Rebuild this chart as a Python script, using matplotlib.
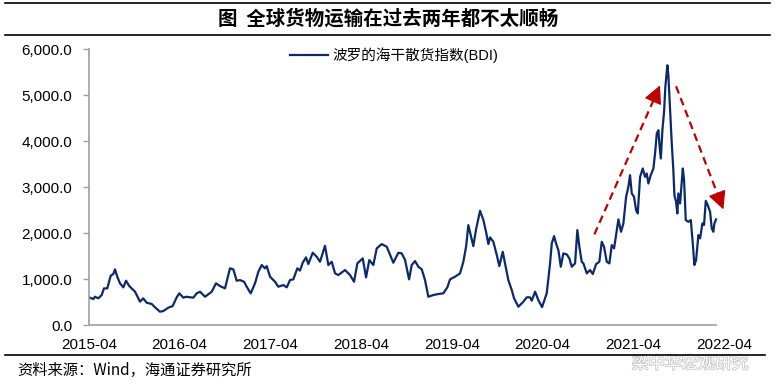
import matplotlib
matplotlib.use("Agg")
import matplotlib.pyplot as plt
import matplotlib.patheffects as pe
from matplotlib.lines import Line2D
from matplotlib.ticker import FuncFormatter, MultipleLocator

plt.rcParams['font.family'] = ['Liberation Sans', 'Noto Sans CJK SC', 'DejaVu Sans']

# BDI. x = months since 2015-04
months = [0.0, 0.57, 0.79, 1.23, 1.68, 1.98, 2.42, 2.87, 3.21, 3.44, 3.74, 4.10, 4.54, 4.90,
          5.33, 6.09, 6.75, 7.18, 7.63, 8.30, 8.73, 9.39, 9.83, 10.49, 11.07, 11.60, 11.95,
          12.48, 12.83, 13.80, 14.25, 14.69, 15.35, 16.23, 16.80, 17.33, 17.99, 18.65, 19.09,
          19.54, 19.98, 20.51, 20.86, 21.39, 21.96, 22.40, 22.85, 23.28, 23.51, 23.95, 24.61,
          25.04, 25.71, 26.16, 26.59, 27.03, 27.56, 27.91, 28.27, 28.71, 29.01, 29.60, 30.12,
          30.56, 31.22, 31.66, 32.11, 32.55, 32.98, 33.87, 34.53, 35.06, 35.50, 36.21, 36.65,
          37.08, 37.61, 38.06, 38.72, 39.39, 40.26, 40.92, 41.37, 41.81, 42.34, 42.69, 43.13,
          43.57, 44.02, 44.45, 44.89, 45.55, 46.21, 46.87, 47.40, 47.76, 48.42, 49.08, 49.52,
          49.88, 50.18, 50.50, 50.84, 51.20, 51.73, 52.17, 52.52, 52.83, 53.05, 53.49, 53.94,
          54.28, 54.73, 55.04, 55.47, 55.92, 56.23, 56.80, 57.46, 57.91, 58.34, 58.57, 59.01,
          59.44, 59.93, 60.55, 60.99, 61.22, 61.52, 61.78, 62.09, 62.41, 62.75, 63.20, 63.54,
          63.86, 64.30, 64.60, 64.87, 65.18, 65.40, 65.85, 66.28, 66.64, 67.08, 67.51, 67.83,
          68.13, 68.49, 68.84, 69.15, 69.46, 69.72, 70.03, 70.38, 70.69, 71.05, 71.35, 71.57,
          71.80, 72.10, 72.37, 72.59, 72.90, 73.25, 73.56, 73.78, 74.00, 74.31, 74.66, 74.88,
          75.11, 75.32, 75.45, 75.64, 75.85, 76.07, 76.24, 76.51, 76.64, 76.87, 77.09, 77.30,
          77.44, 77.66, 77.83, 77.96, 78.19, 78.55, 78.72, 78.94, 79.29, 79.61, 79.87, 80.08,
          80.31, 80.61, 80.84, 81.14, 81.36, 81.59, 81.85, 82.16, 82.38, 82.59, 82.73, 82.95]
bdi = [608, 571, 621, 586, 658, 803, 803, 1077, 1114, 1216, 1056, 912, 825, 969,
       853, 730, 513, 586, 491, 463, 391, 296, 310, 383, 419, 608, 695,
       600, 621, 600, 695, 730, 621, 730, 912, 853, 803, 1238, 1216,
       969, 983, 947, 839, 695, 912, 1164, 1310, 1238, 1287, 1056, 947,
       839, 875, 825, 983, 1000, 1238, 1190, 1360, 1477, 1331, 1577, 1490,
       1381, 1729, 1310, 1381, 1129, 1092, 1201, 1092, 947, 1346, 1455, 1042,
       1418, 1310, 1672, 1765, 1707, 1360, 1577, 1563, 1418, 999, 1310, 1396,
       1273, 1216, 983, 621, 658, 680, 695, 825, 999, 1056, 1129, 1381,
       1707, 2178, 1961, 1722, 2085, 2489, 2287, 2033, 1765, 1911, 1816, 1527,
       1288, 1599, 1346, 983, 767, 586, 404, 513, 608, 608, 535, 730,
       549, 395, 695, 1346, 1781, 1939, 1781, 1635, 1273, 1563, 1541, 1455,
       1273, 1346, 2070, 1707, 1381, 1346, 1129, 1201, 1114, 1331, 1381, 1816,
       1707, 1381, 1346, 1744, 1672, 1961, 2302, 2033, 2215, 2793, 3010, 3264,
       2866, 2793, 2504, 2432, 3227, 3409, 3227, 3300, 3083, 3264, 3409, 3735,
       4169, 4241, 3952, 3626, 4241, 4638, 5181, 5653, 5435, 4675, 3952, 3372,
       2829, 2684, 2432, 2866, 2649, 3409, 3155, 2287, 2250, 2287, 1781, 1310,
       1418, 1961, 1890, 2215, 2180, 2706, 2612, 2467, 2106, 2033, 2215, 2302]

tick_months = [0, 12, 24, 36, 48, 60, 72, 84]
tick_labels = ['2015-04', '2016-04', '2017-04', '2018-04', '2019-04', '2020-04', '2021-04', '2022-04']

# trend arrows: (start month, start value, end month, end value)
arrows = [(66.85, 1976, 75.54, 5216), (77.66, 5197, 83.92, 2519)]

W, H = 776, 389
fig = plt.figure(figsize=(W / 100, H / 100), dpi=100)
ax = fig.add_axes([89 / W, 1 - 325.3 / H, (724 - 89) / W, (325.3 - 49.3) / H])

line_color = '#0B2A6E'
axis_gray = '#A0A0A0'
red = '#C00000'

ax.plot(months, bdi, color=line_color, lw=1.6, label='波罗的海干散货指数(BDI)')

for x0, y0, x1, y1 in arrows:
    # dashed shaft up to the head, then a solid filled head
    xb = x0 + 0.93 * (x1 - x0)
    yb = y0 + 0.93 * (y1 - y0)
    ax.plot([x0, xb], [y0, yb], color=red, lw=1.6, linestyle=(0, (3.5, 2.2)), clip_on=False)
    ax.annotate('', xy=(x1, y1), xytext=(xb, yb),
                arrowprops=dict(arrowstyle='-|>,head_length=0.7,head_width=0.35',
                                color=red, lw=1.0, mutation_scale=16, shrinkA=0, shrinkB=0),
                annotation_clip=False)

ax.set_xlim(0, 84)
ax.set_ylim(0, 6000)
ax.yaxis.set_major_locator(MultipleLocator(1000))
ax.yaxis.set_major_formatter(FuncFormatter(lambda v, p: '{:,.1f}'.format(v)))
ax.set_xticks(tick_months)
ax.set_xticklabels(tick_labels)

for s in ['top', 'right']:
    ax.spines[s].set_visible(False)
for s in ['left', 'bottom']:
    ax.spines[s].set_color(axis_gray)
    ax.spines[s].set_linewidth(1.2)
ax.spines['bottom'].set_bounds(0, months[-1])

ax.tick_params(axis='y', length=4, width=1, color=axis_gray, pad=8, labelsize=11, labelcolor='black')
ax.tick_params(axis='x', length=0, pad=9, labelsize=11, labelcolor='black')

ax.legend(loc='center', bbox_to_anchor=(0.508, 1 - 55 / H), bbox_transform=fig.transFigure,
          frameon=False, fontsize=10.5, handlelength=2.6, handletextpad=0.35)

# title band
fig.text(0.5, 1 - 19 / H, '图  全球货物运输在过去两年都不太顺畅', ha='center', va='center',
         fontsize=14, fontweight='bold', family=['Noto Sans CJK SC'])
for yy in [2.5, 35]:
    fig.add_artist(Line2D([5 / W, 770 / W], [1 - yy / H] * 2, color='black', lw=1.2))
fig.add_artist(Line2D([5 / W, 765 / W], [1 - 355 / H] * 2, color='black', lw=1.2))

fig.text(17 / W, 1 - 370 / H, '资料来源：Wind，海通证券研究所', ha='left', va='center',
         fontsize=11, family=['Noto Sans CJK SC', 'Liberation Sans'])

# faint watermark in the lower right corner
fig.text(690 / W, 1 - 364 / H, '梁中华宏观研究', ha='center', va='center', fontsize=12,
         color='white', family=['Noto Sans CJK SC'], zorder=-1,
         path_effects=[pe.withStroke(linewidth=1.2, foreground='#C8C8C8')])

fig.savefig('out.png', dpi=100)
